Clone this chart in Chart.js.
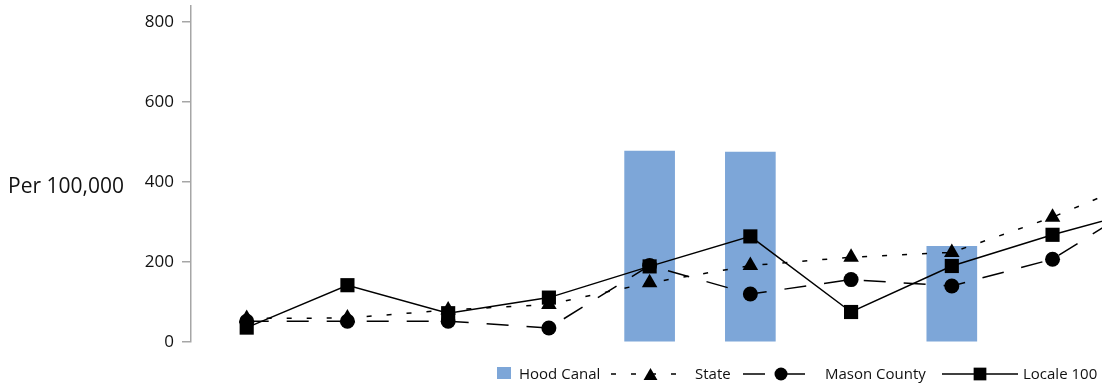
<!DOCTYPE html>
<html>
<head>
<meta charset="utf-8">
<title>Per 100,000</title>
<script src="https://cdn.jsdelivr.net/npm/chart.js@4.4.0/dist/chart.umd.min.js"></script>
<style>
    html, body { margin: 0; padding: 0; background: #fff; overflow: hidden; }
    #wrap { position: relative; width: 1102px; height: 386px; }
</style>
</head>
<body>
<div id="wrap"><canvas id="rateChart"></canvas></div>
<script>
// dados (taxa por 100.000)
var periods = [1, 2, 3, 4, 5, 6, 7, 8, 9, 10];
var hoodCanal = [null, null, null, null, 477, 475, null, 239, null, null];
var state = [59, 60, 80, 94, 148, 191, 212, 224, 312, 417];
var masonCounty = [52, 52, 52, 35, 191, 120, 156, 140, 207, 365];
var locale100 = [36, 142, 72, 111, 189, 264, 75, 190, 268, 337];
var yTicks = [0, 200, 400, 600, 800];
var yTitle = 'Per 100,000';

var textColor = '#111';
var axisColor = '#a6a6a6';

Chart.defaults.font.family = '"Open Sans", sans-serif';

// legenda desenhada a mao, com a linha e o marcador de cada serie
var legendPlugin = {
    id: 'lineLegend',
    afterDraw: function (chart) {
        var ctx = chart.ctx;
        var ds = chart.data.datasets;
        var y = 374;

        ctx.save();
        ctx.font = '15px "Open Sans"';
        ctx.textBaseline = 'alphabetic';

        ctx.fillStyle = ds[0].backgroundColor;
        ctx.fillRect(497, 367, 14, 12);
        ctx.fillStyle = textColor;
        ctx.fillText(ds[0].label, 519, 379);

        var items = [
            { i: 1, x0: 611, x1: 684, mx: 650.5, tx: 695 },
            { i: 2, x0: 743, x1: 807, mx: 781, tx: 825 },
            { i: 3, x0: 942, x1: 1018, mx: 980, tx: 1023 }
        ];

        for (var k = 0; k < items.length; k++) {
            var it = items[k];
            var d = ds[it.i];
            ctx.setLineDash(d.borderDash || []);
            ctx.lineWidth = d.borderWidth;
            ctx.strokeStyle = d.borderColor;
            ctx.beginPath();
            ctx.moveTo(it.x0, y);
            ctx.lineTo(it.x1, y);
            ctx.stroke();
            ctx.setLineDash([]);

            var my = d.pointStyle == 'triangle' ? y + 2 : y;
            ctx.fillStyle = d.pointBackgroundColor;
            Chart.helpers.drawPoint(ctx, {
                pointStyle: d.pointStyle,
                radius: d.pointRadius - 1,
                rotation: 0,
                borderWidth: 0
            }, it.mx, my);

            ctx.fillStyle = textColor;
            ctx.fillText(d.label, it.tx, 379);
        }

        // titulo do eixo y, na horizontal
        ctx.font = '21px "Open Sans"';
        ctx.fillText(yTitle, 8, 193);
        ctx.restore();
    }
};

var context = document.getElementById('rateChart').getContext('2d');
var rateChart = new Chart(context, {
    data: {
        labels: periods,
        datasets: [{
            type: 'bar',
            label: 'Hood Canal',
            data: hoodCanal,
            backgroundColor: '#7da6d8',
            barThickness: 50,
            order: 4
        }, {
            type: 'line',
            label: 'State',
            data: state,
            borderColor: '#000',
            borderWidth: 1.5,
            borderDash: [5, 15],
            pointStyle: 'triangle',
            pointRadius: 9,
            pointBackgroundColor: '#000',
            pointBorderWidth: 0,
            tension: 0,
            order: 3
        }, {
            type: 'line',
            label: 'Mason County',
            data: masonCounty,
            borderColor: '#000',
            borderWidth: 1.5,
            borderDash: [22, 18],
            pointStyle: 'circle',
            pointRadius: 7.5,
            pointBackgroundColor: '#000',
            pointBorderWidth: 0,
            tension: 0,
            order: 2
        }, {
            type: 'line',
            label: 'Locale 100',
            data: locale100,
            borderColor: '#000',
            borderWidth: 1.5,
            pointStyle: 'rect',
            pointRadius: 10,
            pointBackgroundColor: '#000',
            pointBorderWidth: 0,
            tension: 0,
            order: 1
        }]
    },
    options: {
        responsive: true,
        maintainAspectRatio: false,
        animation: false,
        layout: {
            autoPadding: false,
            padding: { top: 6, bottom: 44, left: 0, right: 0 }
        },
        plugins: {
            legend: { display: false },
            tooltip: { enabled: false }
        },
        scales: {
            x: {
                type: 'linear',
                offset: false,
                bounds: 'data',
                min: 0.447,
                max: 9.491,
                display: false,
                grid: { offset: false },
                ticks: { stepSize: 1, includeBounds: false }
            },
            y: {
                min: 0,
                max: 840,
                border: { display: true, color: axisColor, width: 1.5 },
                grid: {
                    drawOnChartArea: false,
                    drawTicks: true,
                    tickLength: 9,
                    color: axisColor,
                    lineWidth: 1.5
                },
                ticks: {
                    padding: 8,
                    color: textColor,
                    font: { size: 17 }
                },
                afterBuildTicks: function (axis) {
                    axis.ticks = yTicks.map(function (v) { return { value: v }; });
                },
                afterFit: function (axis) {
                    axis.width = 191;
                    axis.paddingTop = 0;
                    axis.paddingBottom = 0;
                }
            }
        }
    },
    plugins: [legendPlugin]
});
</script>
</body>
</html>
